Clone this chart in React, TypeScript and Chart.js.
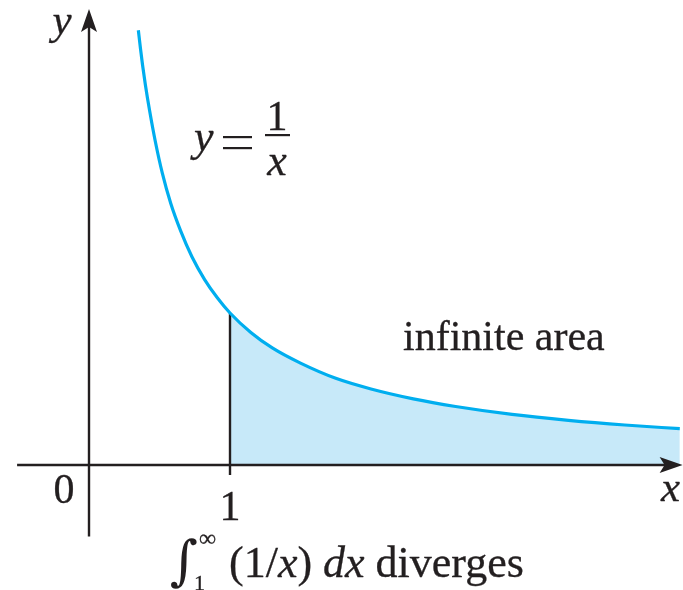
import React, { useEffect, useRef } from "react";
import { Chart, registerables } from "chart.js";

Chart.register(...registerables);

// Curve y = 1/x
const curveX = [0.35, 0.365, 0.38, 0.4, 0.43, 0.47, 0.52, 0.58, 0.65, 0.73, 0.82, 0.91, 1.0, 1.15, 1.3, 1.5, 1.75, 2.0, 2.3, 2.6, 3.0, 3.4, 3.8, 4.19];
const curveY = [2.86, 2.74, 2.63, 2.5, 2.33, 2.13, 1.92, 1.72, 1.54, 1.37, 1.22, 1.1, 1.0, 0.87, 0.77, 0.67, 0.57, 0.5, 0.435, 0.385, 0.333, 0.294, 0.263, 0.239];

// Shaded region starts at x = 1
const shadeStart = 1;

// Axis extents (data units)
const xAxisRange = [-0.51, 4.21];
const yAxisRange = [-0.47, 3.0];

// Texts
const tickLabels = ["0", "1"];
const axisNames = ["x", "y"];
const areaLabel = "infinite area";
const captionWord = "diverges";

const INK = "#231f20";
const CURVE = "#00aeef";
const SHADE = "#c7e9f9";
const SERIF = '"Liberation Serif", "Times New Roman", serif';

export default function App() {
  const ref = useRef<HTMLCanvasElement | null>(null);

  useEffect(() => {
    if (!ref.current) return;
    const curve = curveX.map((x, i) => ({ x, y: curveY[i] }));
    const shade = curve.filter((p) => p.x >= shadeStart);

    const drawArrow = (ctx: CanvasRenderingContext2D, tx: number, ty: number, dir: "up" | "right") => {
      ctx.beginPath();
      if (dir === "up") {
        ctx.moveTo(tx, ty);
        ctx.lineTo(tx + 8, ty + 23);
        ctx.lineTo(tx, ty + 18);
        ctx.lineTo(tx - 8, ty + 23);
      } else {
        ctx.moveTo(tx, ty);
        ctx.lineTo(tx - 23, ty - 8);
        ctx.lineTo(tx - 18, ty);
        ctx.lineTo(tx - 23, ty + 8);
      }
      ctx.closePath();
      ctx.fill();
    };

    const text = (ctx: CanvasRenderingContext2D, t: string, x: number, y: number) => {
      ctx.fillText(t, x, y);
      ctx.strokeText(t, x, y);
    };

    const axesPlugin = {
      id: "axesPlugin",
      afterDatasetDraw(chart: any, args: any) {
        if (args.index !== 1) return;
        const ctx = chart.ctx as CanvasRenderingContext2D;
        const xs = chart.scales.x;
        const ys = chart.scales.y;
        const x0 = xs.getPixelForValue(0);
        const y0 = ys.getPixelForValue(0);
        ctx.save();
        ctx.strokeStyle = INK;
        ctx.fillStyle = INK;
        ctx.lineWidth = 2.4;
        ctx.lineCap = "butt";
        // x axis
        const xr = xs.getPixelForValue(xAxisRange[1]);
        ctx.beginPath();
        ctx.moveTo(xs.getPixelForValue(xAxisRange[0]), y0);
        ctx.lineTo(xr - 16, y0);
        ctx.stroke();
        drawArrow(ctx, xr, y0, "right");
        // y axis
        const yt = ys.getPixelForValue(yAxisRange[1]);
        ctx.beginPath();
        ctx.moveTo(x0, ys.getPixelForValue(yAxisRange[0]));
        ctx.lineTo(x0, yt + 16);
        ctx.stroke();
        drawArrow(ctx, x0, yt, "up");
        // vertical line at x = 1 and tick below
        const x1 = xs.getPixelForValue(shadeStart);
        ctx.beginPath();
        ctx.moveTo(x1, y0 + 10);
        ctx.lineTo(x1, ys.getPixelForValue(1 / shadeStart));
        ctx.stroke();
        ctx.restore();
      },
      afterDraw(chart: any) {
        const ctx = chart.ctx as CanvasRenderingContext2D;
        const xs = chart.scales.x;
        const ys = chart.scales.y;
        const x0 = xs.getPixelForValue(0);
        const y0 = ys.getPixelForValue(0);
        ctx.save();
        ctx.fillStyle = INK;
        ctx.strokeStyle = INK;
        ctx.lineWidth = 0.3;
        ctx.textBaseline = "alphabetic";
        // tick labels
        ctx.font = `42px ${SERIF}`;
        ctx.textAlign = "center";
        text(ctx, tickLabels[0], x0 - 25, y0 + 38);
        text(ctx, tickLabels[1], xs.getPixelForValue(1), y0 + 55);
        // axis names
        ctx.font = `italic 43px ${SERIF}`;
        text(ctx, axisNames[1], x0 - 27, 34);
        text(ctx, axisNames[0], xs.getPixelForValue(xAxisRange[1]) - 12, y0 + 36);
        // y = 1/x
        ctx.textAlign = "left";
        ctx.font = `italic 44px ${SERIF}`;
        text(ctx, "y", 194, 151);
        ctx.fillRect(223, 136, 29, 2.2);
        ctx.fillRect(223, 147, 29, 2.2);
        ctx.textAlign = "center";
        ctx.font = `42px ${SERIF}`;
        text(ctx, "1", 277, 130);
        ctx.font = `italic 44px ${SERIF}`;
        text(ctx, "x", 277, 175);
        ctx.fillRect(265, 134, 25, 2.2);
        // infinite area
        ctx.textAlign = "left";
        ctx.font = `42px ${SERIF}`;
        text(ctx, areaLabel, 403, 350);
        // caption
        const base = 577;
        ctx.font = `54px "DejaVu Serif", serif`;
        ctx.fillText("\u222B", 170, base + 2);
        ctx.font = `24px ${SERIF}`;
        text(ctx, "\u221E", 199, 546);
        ctx.font = `22px ${SERIF}`;
        text(ctx, "1", 194, 590);
        let cx = 229;
        const run = (t: string, italic: boolean) => {
          ctx.font = `${italic ? "italic " : ""}44px ${SERIF}`;
          text(ctx, t, cx, base);
          cx += ctx.measureText(t).width;
        };
        run("(1/", false);
        run("x", true);
        run(") ", false);
        run("dx", true);
        run(" " + captionWord, false);
        ctx.restore();
      },
    };

    const chart = new Chart(ref.current, {
      type: "scatter",
      data: {
        datasets: [
          {
            data: curve,
            showLine: true,
            borderColor: CURVE,
            borderWidth: 3.2,
            pointRadius: 0,
            fill: false,
            cubicInterpolationMode: "monotone",
          },
          {
            data: shade,
            showLine: true,
            borderWidth: 0,
            borderColor: "rgba(0,0,0,0)",
            backgroundColor: SHADE,
            pointRadius: 0,
            fill: "origin",
            cubicInterpolationMode: "monotone",
          },
        ],
      },
      options: {
        animation: false,
        responsive: false,
        devicePixelRatio: 1,
        layout: { padding: { left: 4.4, right: 1.8, top: 9, bottom: 49 } },
        plugins: { legend: { display: false }, tooltip: { enabled: false } },
        scales: {
          x: { type: "linear", min: -0.6, max: 4.2, display: false },
          y: { type: "linear", min: -0.5, max: 3.0, display: false },
        },
      },
      plugins: [axesPlugin],
    } as any);
    return () => chart.destroy();
  }, []);

  return (
    <div style={{ position: "fixed", left: 0, top: 0, width: 683, height: 590, background: "#fff" }}>
      <canvas ref={ref} width={683} height={590} style={{ width: 683, height: 590, display: "block" }} />
    </div>
  );
}
